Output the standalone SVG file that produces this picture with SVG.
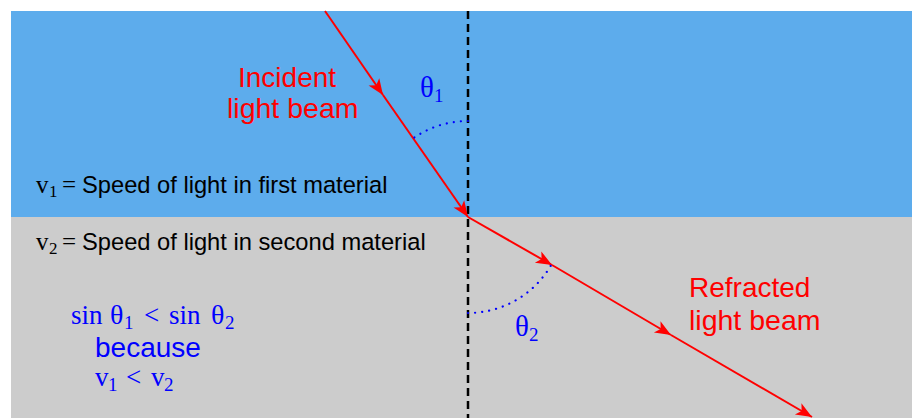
<svg xmlns="http://www.w3.org/2000/svg" width="912" height="418" viewBox="0 0 912 418">
<style>
.sans{font-family:"Liberation Sans",Arial,sans-serif}
.serif{font-family:"Liberation Serif","Times New Roman",serif}
.red{fill:#ff0000}
.blue{fill:#0000ff}
.blk{fill:#000000}
.ray{stroke:#ff0000;stroke-width:2;fill:none}
.arc{stroke:#0000ff;stroke-width:2.2;fill:none;stroke-dasharray:0.1 7;stroke-linecap:round}
</style>
<defs>
<marker id="ah" markerUnits="userSpaceOnUse" markerWidth="20" markerHeight="16" viewBox="-17 -8 20 16" refX="0" refY="0" orient="auto">
<path d="M0,0 L-16,-6.5 L-12,0 L-16,6.5 Z" fill="#ff0000"/>
</marker>
</defs>
<g id="materials">
<rect id="material1" x="11" y="11" width="901" height="206" fill="#5dacec"/>
<rect id="material2" x="11" y="217" width="901" height="201" fill="#cccccc"/>
</g>
<g id="normal">
<line x1="468" y1="11" x2="468" y2="418" stroke="#000" stroke-width="2.5" stroke-dasharray="8 5"/>
</g>
<g id="connectors">
<path class="ray" d="M325,11 L383,95" marker-end="url(#ah)"/>
<path class="ray" d="M383,95 L468,217" marker-end="url(#ah)"/>
<path class="ray" d="M468,217 L552,265" marker-end="url(#ah)"/>
<path class="ray" d="M552,265 L671,335" marker-end="url(#ah)"/>
<path class="ray" d="M671,335 L812,417" marker-end="url(#ah)"/>
</g>
<g id="angles">
<path class="arc" d="M468,121 A96,96 0 0,0 413.3,138.2"/>
<path class="arc" d="M468,313 A96,96 0 0,0 551.4,264.6"/>
</g>
<g id="incident-label">
<text class="sans red" font-size="28" x="238" y="87">Incident</text>
<text class="sans red" font-size="28.5" x="227" y="118">light beam</text>
</g>
<g id="refracted-label">
<text class="sans red" font-size="28" x="689" y="297">Refracted</text>
<text class="sans red" font-size="28.5" x="689" y="330">light beam</text>
</g>
<g id="theta1">
<text class="serif blue" font-size="29" x="420" y="97">θ<tspan font-size="19" x="434" dy="5">1</tspan></text>
</g>
<g id="theta2">
<text class="serif blue" font-size="29" x="515" y="336">θ<tspan font-size="19" x="529" dy="5">2</tspan></text>
</g>
<g id="v1-label">
<text class="serif blk" font-size="25" x="36" y="193">v<tspan font-size="17" x="49" dy="4">1</tspan><tspan dy="-4" x="62">=</tspan></text>
<text class="sans blk" font-size="23.7" x="82" y="193">Speed of light in first material</text>
</g>
<g id="v2-label">
<text class="serif blk" font-size="25" x="36" y="250">v<tspan font-size="17" x="49" dy="4">2</tspan><tspan dy="-4" x="62">=</tspan></text>
<text class="sans blk" font-size="23.7" x="82" y="250">Speed of light in second material</text>
</g>
<g id="relation">
<text class="serif blue" font-size="27" x="71" y="324">sin<tspan x="110" font-size="28">θ</tspan><tspan font-size="19" x="124" dy="5">1</tspan><tspan x="144" dy="-5">&lt;</tspan><tspan x="169">sin</tspan><tspan x="211" font-size="28">θ</tspan><tspan font-size="19" x="225" dy="5">2</tspan></text>
<text class="sans blue" font-size="28" x="95" y="357">because</text>
<text class="serif blue" font-size="27" x="95" y="386">v<tspan font-size="19" x="108" dy="5">1</tspan><tspan x="126" dy="-5">&lt;</tspan><tspan x="151">v</tspan><tspan font-size="19" x="164" dy="5">2</tspan></text>
</g>
</svg>
